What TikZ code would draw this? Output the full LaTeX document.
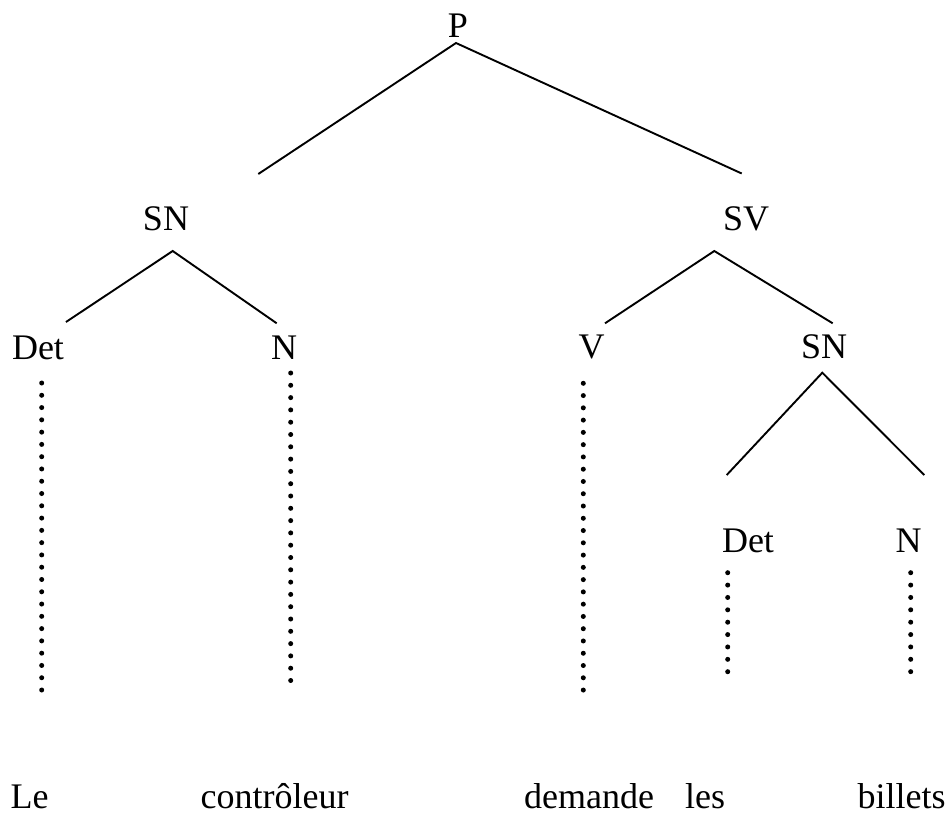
\documentclass[tikz,border=0pt]{standalone}
\usepackage{fontspec}
\setmainfont{Liberation Serif}
\begin{document}
\begin{tikzpicture}[x=1pt,y=-1pt,
  lab/.style={inner sep=0pt, anchor=base, font=\fontsize{36}{43}\selectfont},
  word/.style={inner sep=0pt, anchor=base west, text depth=0pt, font=\fontsize{36}{43}\selectfont},
  branch/.style={line width=1.9pt},
  dotline/.style={line width=5pt, line cap=round, dash pattern=on 0pt off #1}]
\useasboundingbox (0,0) rectangle (952,814);
% category labels
\node[lab] (P)    at (458,37)    {P};
\node[lab] (SN1)  at (166,230)   {SN};
\node[lab] (SV)   at (746,230)   {SV};
\node[lab] (Det1) at (38,359)    {Det};
\node[lab] (N1)   at (284,359)   {N};
\node[lab] (V)    at (591.7,358) {V};
\node[lab] (SN2)  at (824,358)   {SN};
\node[lab] (Det2) at (748,552.7) {Det};
\node[lab] (N2)   at (908.5,552.7) {N};
% words
\node[word] (w1) at (10.5,808)  {Le};
\node[word] (w2) at (200.5,808) {contrôleur};
\node[word] (w3) at (524,808)   {demande};
\node[word] (w4) at (685,808)   {les};
\node[word] (w5) at (857.5,808) {billets};
% branch points
\coordinate (Pb)   at (456,43);
\coordinate (SN1t) at (258.3,174);
\coordinate (SVt)  at (741.7,173.5);
\coordinate (SN1b) at (172.7,251);
\coordinate (Det1t) at (66,322);
\coordinate (N1t)  at (276.7,323.3);
\coordinate (SVb)  at (714.3,251);
\coordinate (Vt)   at (605,323.3);
\coordinate (SN2t) at (832.7,323.3);
\coordinate (SN2b) at (822.3,372.7);
\coordinate (Det2t) at (726.7,475);
\coordinate (N2t)  at (924.3,475);
% dotted line ends
\coordinate (Det1a) at (41.7,383);   \coordinate (Det1z) at (41.7,690);
\coordinate (N1a)   at (290.7,373);  \coordinate (N1z)   at (290.7,692.7);
\coordinate (Va)    at (583.3,383.3);\coordinate (Vz)    at (583.3,702.3);
\coordinate (Det2a) at (727.7,572.7);\coordinate (Det2z) at (727.7,671.7);
\coordinate (N2a)   at (910.7,572.7);\coordinate (N2z)   at (910.7,684);
% branches
\draw[branch] (SN1t) -- (Pb) -- (SVt);
\draw[branch] (Det1t) -- (SN1b) -- (N1t);
\draw[branch] (Vt) -- (SVb) -- (SN2t);
\draw[branch] (Det2t) -- (SN2b) -- (N2t);
% dotted connectors
\draw[dotline=12.28pt] (Det1a) -- (Det1z);
\draw[dotline=12.3pt]  (N1a) -- (N1z);
\draw[dotline=12.27pt] (Va) -- (Vz);
\draw[dotline=12.375pt] (Det2a) -- (Det2z);
\draw[dotline=12.37pt] (N2a) -- (N2z);
\end{tikzpicture}
\end{document}
